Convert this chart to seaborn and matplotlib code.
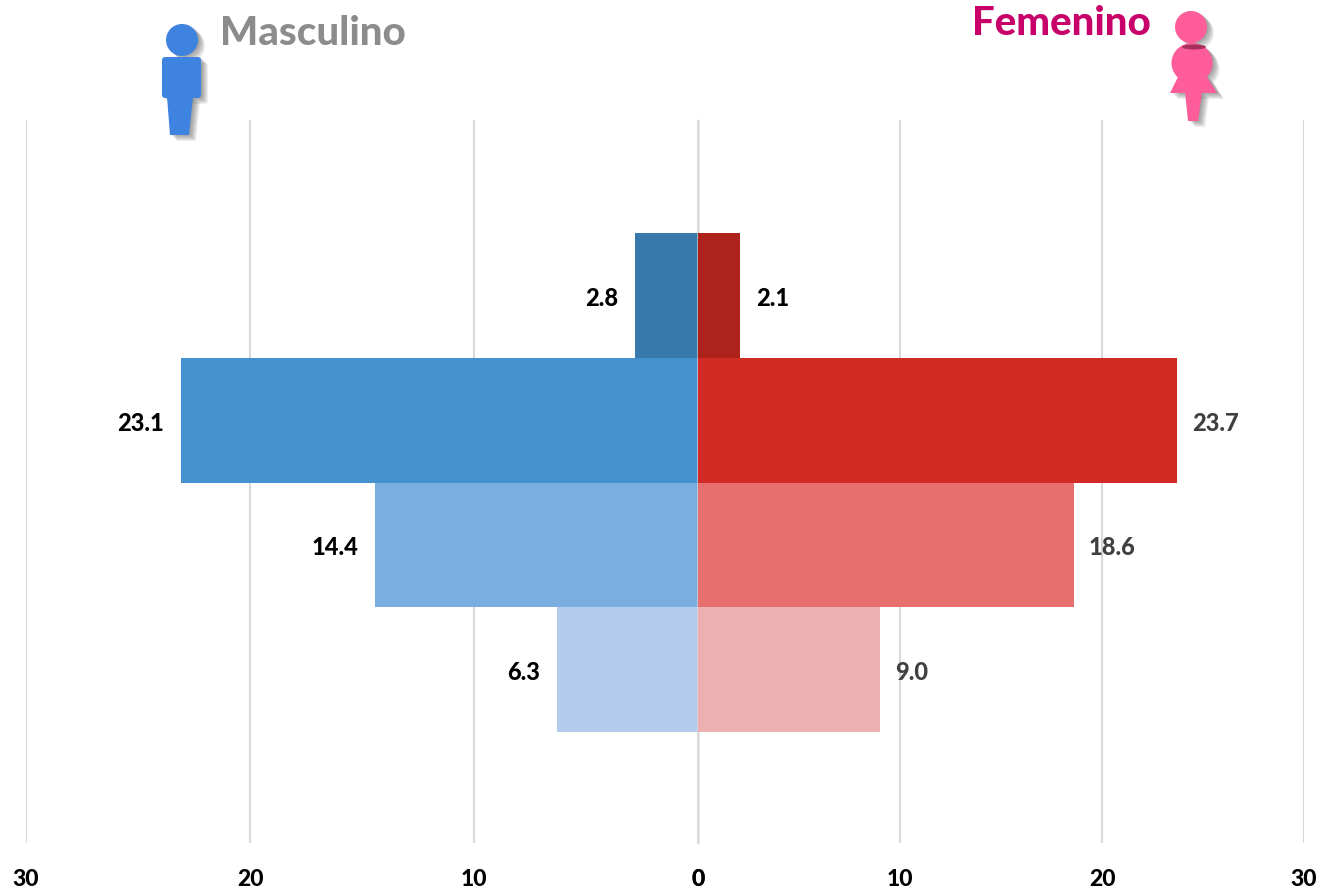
import matplotlib
matplotlib.use("Agg")
import matplotlib.pyplot as plt
from matplotlib.patches import Circle, Ellipse, FancyBboxPatch, Polygon
import pandas as pd
import seaborn as sns

# Datos
grupos = ["g1", "g2", "g3", "g4"]
masculino = [2.8, 23.1, 14.4, 6.3]
femenino = [2.1, 23.7, 18.6, 9.0]
ticks = [0, 10, 20, 30]

colores_m = ["#3879ab", "#4591cf", "#7baee0", "#b4cceb"]
colores_f = ["#ae221c", "#d22b25", "#e7706f", "#ecb0b0"]
textos_f = ["#000000", "#404040", "#404040", "#404040"]

W, H = 1320, 892
sns.set_theme(style="white")
plt.rcParams["font.family"] = ["Lato", "DejaVu Sans"]
plt.rcParams["font.weight"] = "black"

fig = plt.figure(figsize=(W / 100, H / 100), dpi=100)
fig.patch.set_facecolor("white")


def eje(x0, x1):
    return fig.add_axes([x0 / W, 1 - 843 / H, (x1 - x0) / W, (843 - 120) / H], facecolor="none")


def dibuja(ax, valores, colores):
    df = pd.DataFrame({"grupo": grupos, "valor": valores})
    sns.barplot(data=df, x="valor", y="grupo", hue="grupo", palette=colores, orient="h",
                width=1, saturation=1, legend=False, ax=ax, zorder=3, linewidth=0)
    ax.set_ylim(4.39, -1.41)
    ax.set_xticks(ticks)
    ax.set_yticks([])
    ax.set_xlabel("")
    ax.set_ylabel("")
    ax.grid(axis="x", color="#d9d9d9", linewidth=1.5)
    ax.grid(axis="y", visible=False)
    ax.set_axisbelow(True)
    ax.tick_params(axis="x", length=0, pad=18.5, labelsize=16.5, labelcolor="black")
    sns.despine(ax=ax, left=True, bottom=True)


ax_m = eje(26, 698)
dibuja(ax_m, masculino, colores_m)
ax_m.set_xlim(30, 0)
for c, v in zip(ax_m.containers, masculino):
    for t in ax_m.bar_label(c, labels=[f"{v:.1f}"], padding=12, fontsize=17, color="black"):
        t.xyann = (t.xyann[0], -2)

ax_f = eje(698, 1304)
dibuja(ax_f, femenino, colores_f)
ax_f.set_xlim(0, 30)
for c, v, col in zip(ax_f.containers, femenino, textos_f):
    for t in ax_f.bar_label(c, labels=[f"{v:.1f}"], padding=11, fontsize=17, color=col):
        t.xyann = (t.xyann[0], -2)

# linea central sobre las barras
ax_m.axvline(0, color="#dcdcdc", linewidth=1.8, alpha=0.8, zorder=5, clip_on=False)

# capa en pixeles para titulos e iconos
capa = fig.add_axes([0, 0, 1, 1], facecolor="none")
capa.set_xlim(0, W)
capa.set_ylim(H, 0)
capa.axis("off")

capa.text(220, 45, "Masculino", fontsize=29, color="#8c8c8c")
capa.text(972, 35, "Femenino", fontsize=29, color="#c8006a")


def hombre(dx=0, dy=0, color="#3f83e0", alpha=1.0):
    capa.add_patch(Circle((182 + dx, 40 + dy), 16, color=color, alpha=alpha, lw=0))
    capa.add_patch(FancyBboxPatch((164 + dx, 59 + dy), 35, 37, boxstyle="round,pad=2,rounding_size=3",
                                  color=color, alpha=alpha, lw=0))
    capa.add_patch(Polygon([(167 + dx, 97 + dy), (193 + dx, 97 + dy), (189 + dx, 135 + dy), (170 + dx, 135 + dy)],
                           color=color, alpha=alpha, lw=0))


def mujer(dx=0, dy=0, color="#ff5c9a", alpha=1.0):
    capa.add_patch(Circle((1191 + dx, 27 + dy), 16, color=color, alpha=alpha, lw=0))
    capa.add_patch(Ellipse((1192 + dx, 63 + dy), 41, 40, color=color, alpha=alpha, lw=0))
    capa.add_patch(Polygon([(1178 + dx, 77 + dy), (1170 + dx, 93 + dy), (1217 + dx, 93 + dy), (1207 + dx, 77 + dy)],
                           color=color, alpha=alpha, lw=0))
    capa.add_patch(Polygon([(1185 + dx, 92 + dy), (1202 + dx, 92 + dy), (1198 + dx, 121 + dy), (1188 + dx, 121 + dy)],
                           color=color, alpha=alpha, lw=0))


for d in [1, 2, 3, 4, 5, 6, 7]:
    hombre(d, d - 1, "#444444", 0.09)
    mujer(d, d - 1, "#444444", 0.09)
hombre()
mujer()
capa.add_patch(Ellipse((1194, 47), 24, 5, color="#a8305f", lw=0))

fig.savefig("out.png", dpi=100)
